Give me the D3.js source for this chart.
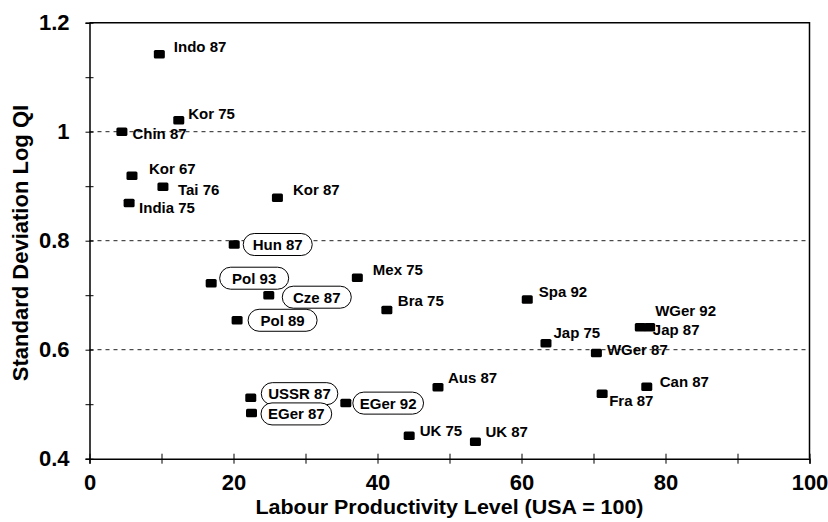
<!DOCTYPE html>
<html>
<head>
<meta charset="utf-8">
<script src="https://cdn.jsdelivr.net/npm/d3@7"></script>
<style>
body { margin: 0; background: #fff; }
text { font-family: "Liberation Sans", Arial, sans-serif; font-weight: bold; fill: #000; }
</style>
</head>
<body>
<div id="chart-area"></div>
<script>
/*
*    scatter: productivity level vs dispersion of quality index
*/

var labels = ["Indo 87", "Kor 75", "Chin 87", "Kor 67", "Tai 76", "India 75", "Kor 87",
    "Hun 87", "Pol 93", "Cze 87", "Pol 89", "Mex 75", "Bra 75", "Spa 92",
    "WGer 92", "Jap 87", "Jap 75", "WGer 87", "Can 87", "Fra 87", "Aus 87",
    "UK 75", "UK 87", "USSR 87", "EGer 87", "EGer 92"];
var productivity = [9.7, 12.4, 4.5, 5.9, 10.2, 5.5, 26.1,
    20.1, 16.9, 24.9, 20.5, 37.2, 41.3, 60.8,
    77.8, 76.5, 63.4, 70.4, 77.4, 71.2, 48.4,
    44.4, 53.6, 22.4, 22.5, 35.6];
var stdDevLogQI = [1.142, 1.021, 1.0, 0.919, 0.899, 0.869, 0.879,
    0.793, 0.722, 0.700, 0.654, 0.732, 0.673, 0.692,
    0.641, 0.641, 0.612, 0.594, 0.532, 0.519, 0.531,
    0.442, 0.431, 0.512, 0.484, 0.502];
// economies drawn with a rounded box round the label
var boxed = ["Hun 87", "Pol 93", "Cze 87", "Pol 89", "USSR 87", "EGer 87", "EGer 92"];

var xTicks = [0, 10, 20, 30, 40, 50, 60, 70, 80, 90, 100];
var xTickLabels = [0, 20, 40, 60, 80, 100];
var yTicks = [0.4, 0.5, 0.6, 0.7, 0.8, 0.9, 1, 1.1, 1.2];
var yTickLabels = [0.4, 0.6, 0.8, 1, 1.2];
var yGrid = [0.6, 0.8, 1];

// label placement (pixels from the marker centre)
var labelOffset = {
    "Indo 87": [14.5, -2.5], "Kor 75": [9.5, -1], "Chin 87": [10.5, 7.5],
    "Kor 67": [17, -2], "Tai 76": [15, 8.5], "India 75": [10, 10],
    "Kor 87": [15.5, -2.5], "Mex 75": [15.5, -3], "Bra 75": [11, -4],
    "Spa 92": [11.5, -3], "WGer 92": [5.5, -11], "Jap 87": [12.5, 7.5],
    "Jap 75": [7.5, -5], "WGer 87": [10.5, 2], "Can 87": [13, 0.5],
    "Fra 87": [7, 12], "Aus 87": [10, -4], "UK 75": [10.5, 0], "UK 87": [10, -5]
};
var boxOffset = {
    "Hun 87": [9, 0], "Pol 93": [8.5, -5], "Cze 87": [13.5, 2], "Pol 89": [11, 0],
    "USSR 87": [10.5, -4], "EGer 87": [9.5, 1], "EGer 92": [7, 0]
};

var W = 828, H = 522;
var pLeft = 89.5, pRight = 809.5, pTop = 22.7, pBottom = 458.7;

var svg = d3.select("#chart-area").append("svg")
    .attr("width", W)
    .attr("height", H);

var x = d3.scaleLinear().domain([0, 100]).range([pLeft, pRight]);
var y = d3.scaleLinear().domain([0.4, 1.2]).range([pBottom, pTop]);

var data = labels.map((l, i) => ({ label: l, x: productivity[i], y: stdDevLogQI[i] }));

// dashed grid
svg.append("g").selectAll("line")
    .data(yGrid).enter().append("line")
    .attr("x1", pLeft).attr("x2", pRight)
    .attr("y1", d => y(d)).attr("y2", d => y(d))
    .attr("stroke", "#222")
    .attr("stroke-width", 1)
    .attr("stroke-dasharray", "4,4");

// frame top / right
svg.append("path")
    .attr("d", "M" + pLeft + "," + pTop + "H" + pRight + "V" + pBottom)
    .attr("fill", "none")
    .attr("stroke", "#000")
    .attr("stroke-width", 1.5);

var fmt = d3.format("~g");

var yAxis = d3.axisLeft(y)
    .tickValues(yTicks)
    .tickSize(4)
    .tickPadding(16)
    .tickFormat(d => yTickLabels.indexOf(d) >= 0 ? fmt(d) : "");
svg.append("g")
    .attr("class", "left axis")
    .attr("transform", "translate(" + pLeft + ",0)")
    .call(yAxis)
    .call(g => g.select(".domain").attr("stroke-width", 1.5))
    .call(g => g.selectAll(".tick line").attr("x1", -4).attr("x2", 4).attr("stroke-width", 1))
    .call(g => g.selectAll(".tick text").attr("font-size", "22px").attr("font-family", null));

var xAxis = d3.axisBottom(x)
    .tickValues(xTicks)
    .tickSize(5)
    .tickPadding(11)
    .tickFormat(d => xTickLabels.indexOf(d) >= 0 ? d : "");
svg.append("g")
    .attr("class", "bottom axis")
    .attr("transform", "translate(0," + pBottom + ")")
    .call(xAxis)
    .call(g => g.select(".domain").attr("stroke-width", 1.5))
    .call(g => g.selectAll(".tick line").attr("y1", -5).attr("y2", 5).attr("stroke-width", 1))
    .call(g => g.selectAll(".tick text").attr("font-size", "22px").attr("font-family", null));

// markers
svg.append("g").selectAll("rect")
    .data(data).enter().append("rect")
    .attr("x", d => x(d.x) - 5.5)
    .attr("y", d => y(d.y) - 4.25)
    .attr("width", 11)
    .attr("height", 8.5)
    .attr("rx", 1.5)
    .attr("fill", "#000");

// plain labels
svg.append("g").selectAll("text")
    .data(data.filter(d => boxed.indexOf(d.label) < 0)).enter().append("text")
    .attr("x", d => x(d.x) + labelOffset[d.label][0])
    .attr("y", d => y(d.y) + labelOffset[d.label][1])
    .attr("font-size", "15px")
    .text(d => d.label);

// boxed labels
var bl = svg.append("g").selectAll("g")
    .data(data.filter(d => boxed.indexOf(d.label) >= 0)).enter().append("g")
    .attr("transform", d => "translate(" + (x(d.x) + boxOffset[d.label][0]) + "," + (y(d.y) + boxOffset[d.label][1]) + ")");

bl.append("text")
    .attr("font-size", "15px")
    .attr("dy", "0.36em")
    .text(d => d.label);

bl.each(function () {
    var g = d3.select(this);
    var t = g.select("text");
    var tw = t.node().getComputedTextLength();
    var bw = Math.max(tw + 14, 69);
    t.attr("x", bw / 2).attr("text-anchor", "middle");
    g.insert("rect", "text")
        .attr("x", 0).attr("y", -11)
        .attr("width", bw).attr("height", 22)
        .attr("rx", 11)
        .attr("fill", "#fff")
        .attr("stroke", "#000")
        .attr("stroke-width", 1);
});

// axis titles
svg.append("text")
    .attr("x", (pLeft + pRight) / 2)
    .attr("y", 514)
    .attr("font-size", "21px")
    .attr("text-anchor", "middle")
    .attr("textLength", 388)
    .attr("lengthAdjust", "spacingAndGlyphs")
    .text("Labour Productivity Level (USA = 100)");

svg.append("text")
    .attr("transform", "translate(28,243) rotate(-90)")
    .attr("font-size", "22px")
    .attr("text-anchor", "middle")
    .text("Standard Deviation Log QI");
</script>
</body>
</html>
